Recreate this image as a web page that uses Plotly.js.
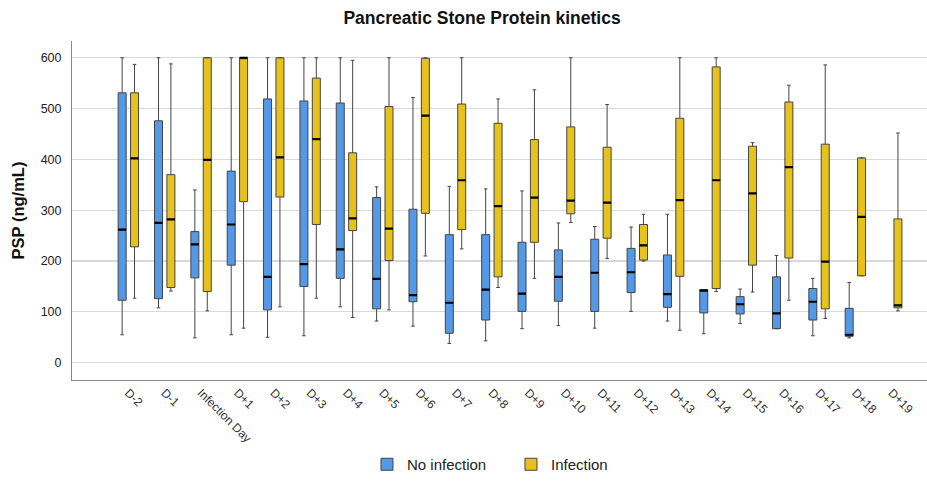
<!DOCTYPE html>
<html>
<head>
<meta charset="utf-8">
<script src="https://cdn.plot.ly/plotly-3.0.1.min.js"></script>
<style>html,body{margin:0;padding:0;background:#fff;}#chart{width:927px;height:481px;}</style>
</head>
<body>
<div id="chart"></div>
<script>
var categories = ['D-2','D-1','Infection Day','D+1','D+2','D+3','D+4','D+5','D+6','D+7','D+8','D+9','D+10','D+11','D+12','D+13','D+14','D+15','D+16','D+17','D+18','D+19'];

// No infection (blue)
var noInfLower  = [55,108,49,55,50,53,110,82,72,38,43,67,73,68,101,82,57,77,67,53,49,null];
var noInfQ1     = [123,126,167,192,104,150,166,106,120,58,84,101,121,101,138,109,98,96,67,84,52,null];
var noInfMedian = [262,275,233,272,169,194,223,165,133,118,144,136,169,177,178,135,142,115,97,120,55,null];
var noInfQ3     = [531,476,258,377,519,515,511,325,302,252,252,237,222,243,225,212,144,130,169,146,107,null];
var noInfUpper  = [600,600,340,600,600,600,600,346,522,347,342,338,275,268,267,292,144,145,211,166,158,null];

// Infection (yellow)
var infLower  = [127,141,102,68,110,127,89,104,210,224,148,166,276,205,200,64,140,139,123,87,171,102];
var infQ1     = [228,148,140,317,326,272,260,201,294,262,169,237,293,245,202,170,146,192,206,106,171,108];
var infMedian = [402,282,399,600,404,440,284,264,486,359,308,325,319,315,231,320,359,333,385,199,287,113];
var infQ3     = [531,370,600,600,600,560,413,504,599,509,471,439,464,424,272,481,582,426,513,430,403,283];
var infUpper  = [587,588,600,600,600,600,595,600,600,600,519,537,600,508,292,600,600,433,546,586,403,452];

var yTicks = [0,100,200,300,400,500,600];

var blue = '#5499e8', yellow = '#e8c21c';

// keep only categories that have data
function pick(arr, ref) {
  var out = [];
  for (var i = 0; i < ref.length; i++) if (ref[i] !== null) out.push(arr[i]);
  return out;
}

function boxTrace(name, lo, q1, med, q3, up, color, grp) {
  return {
    type: 'box', name: name, x: pick(categories, med),
    lowerfence: pick(lo, med), q1: pick(q1, med), median: pick(med, med),
    q3: pick(q3, med), upperfence: pick(up, med),
    fillcolor: color, line: {color: '#444', width: 1},
    whiskerwidth: 0.45, offsetgroup: grp, alignmentgroup: 'g',
    hoverinfo: 'skip'
  };
}
// thick median bars drawn as degenerate boxes on the same slots
function medTrace(med, grp) {
  var ms = pick(med, med);
  return {
    type: 'box', x: pick(categories, med), showlegend: false,
    lowerfence: ms, q1: ms, median: ms, q3: ms, upperfence: ms,
    fillcolor: 'rgba(0,0,0,0)', line: {color: '#000', width: 2.2},
    whiskerwidth: 0, offsetgroup: grp, alignmentgroup: 'g',
    hoverinfo: 'skip'
  };
}

var data = [
  boxTrace('No infection', noInfLower, noInfQ1, noInfMedian, noInfQ3, noInfUpper, blue, 'a'),
  boxTrace('Infection', infLower, infQ1, infMedian, infQ3, infUpper, yellow, 'b'),
  medTrace(noInfMedian, 'a'),
  medTrace(infMedian, 'b')
];

var layout = {
  width: 927, height: 481,
  margin: {l: 72, r: 0, t: 41, b: 100, pad: 0},
  paper_bgcolor: '#fff', plot_bgcolor: '#fff',
  font: {family: 'Liberation Sans, Arial, sans-serif', size: 12, color: '#222'},
  title: {text: '<b>Pancreatic Stone Protein kinetics</b>', x: 0.52, xanchor: 'center', y: 0.962, yanchor: 'middle',
          font: {size: 17.5, color: '#111', family: 'Liberation Sans, Arial, sans-serif'}},
  boxmode: 'group', boxgap: 0.318, boxgroupgap: 0.355,
  xaxis: {
    type: 'category', categoryarray: categories, categoryorder: 'array',
    range: [-1.55, 21.97], tickangle: 45, showgrid: false, zeroline: false,
    showline: true, linecolor: '#888', linewidth: 1, ticks: '',
    tickfont: {size: 12, color: '#333'}, fixedrange: true
  },
  yaxis: {
    range: [-34, 633], tickvals: yTicks, ticktext: yTicks.map(String),
    showgrid: true, gridcolor: '#d9d9d9', gridwidth: 1.2, zeroline: false,
    showline: true, linecolor: '#888', linewidth: 1, ticks: '', ticklabelstandoff: 7,
    tickfont: {size: 12.5, color: '#222'},
    title: {text: '<b>PSP (ng/mL)</b>', font: {size: 16.5, color: '#111'}, standoff: 11}
  },
  showlegend: true,
  legend: {orientation: 'h', x: 0.345, xanchor: 'left', y: -0.25, yanchor: 'middle',
           font: {size: 15, color: '#222'}, entrywidth: 99, entrywidthmode: 'pixels',
           itemclick: false, itemdoubleclick: false}
};

Plotly.newPlot('chart', data, layout, {displayModeBar: false, staticPlot: true});
</script>
</body>
</html>
